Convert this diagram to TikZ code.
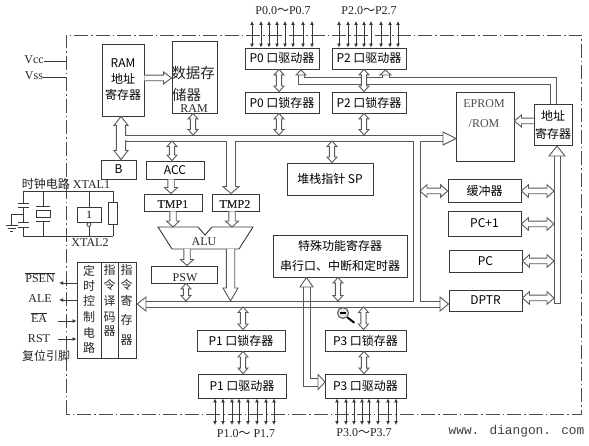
\documentclass[tikz,border=0pt]{standalone}
\usepackage{fontspec}
\setmainfont{Liberation Serif}
\newfontfamily\cjk{Noto Sans CJK SC}
\newfontfamily\webfont{Liberation Mono}
\usetikzlibrary{arrows.meta,calc}
\definecolor{ln}{gray}{0.22}
\definecolor{bl}{gray}{0.35}
\tikzset{
  boxn/.style={draw=ln,line width=.9pt,fill=white,inner sep=0pt,align=center,font=\fontsize{12}{14}\selectfont\cjk},
  lat/.style={font=\fontsize{12}{14}\selectfont,inner sep=0pt,text=black!85},
  zh/.style={font=\fontsize{12}{14}\selectfont\cjk,inner sep=0pt,text=black!85},
  pin/.style={draw=ln,line width=.8pt,{Latex[length=4pt,width=4pt]}-{Latex[length=4pt,width=4pt]}},
  sig/.style={draw=ln,line width=.8pt,-{Latex[length=4pt,width=4pt]}},
  busl/.style={draw=bl,line width=.9pt,line join=miter},
  head/.style={draw=bl,line width=.9pt,fill=white,line join=miter},
  frameb/.style={draw=black!70,line width=.8pt,dash pattern=on 14pt off 3pt on 1.5pt off 3pt},
  wire/.style={draw=ln,line width=.8pt},
}
\newcommand{\bx}[6]{\node[boxn,minimum width=#4pt-#2pt,minimum height=#5pt-#3pt] (#1) at ({(#2+#4)/2},{(#3+#5)/2}) {#6};}
% hollow arrows: from, to, half shaft, half head, head length
\newcommand{\harrtwo}[5]{%
  \coordinate (ha) at ($(#1)!#5pt!(#2)$);
  \coordinate (hb) at ($(#2)!#5pt!(#1)$);
  \draw[head] (#1) -- ($(ha)!#4pt!90:(hb)$) -- ($(ha)!#3pt!90:(hb)$) -- ($(hb)!#3pt!-90:(ha)$) -- ($(hb)!#4pt!-90:(ha)$) -- (#2)
   -- ($(hb)!#4pt!90:(ha)$) -- ($(hb)!#3pt!90:(ha)$) -- ($(ha)!#3pt!-90:(hb)$) -- ($(ha)!#4pt!-90:(hb)$) -- cycle;}
\newcommand{\harrone}[5]{%
  \coordinate (hb) at ($(#2)!#5pt!(#1)$);
  \draw[head] ($(#1)!#3pt!90:(#2)$) -- ($(hb)!#3pt!-90:(#1)$) -- ($(hb)!#4pt!-90:(#1)$) -- (#2)
   -- ($(hb)!#4pt!90:(#1)$) -- ($(hb)!#3pt!90:(#1)$) -- ($(#1)!#3pt!-90:(#2)$);}
\newcommand{\vtwo}[3]{\harrtwo{#2 -| #1,0}{#3 -| #1,0}{2.6}{5}{5.5}}
\newcommand{\vone}[3]{\harrone{#2 -| #1,0}{#3 -| #1,0}{3.2}{6.5}{6}}
\newcommand{\htwo}[3]{\harrtwo{#2 |- 0,#1}{#3 |- 0,#1}{2.8}{6.3}{7}}
\begin{document}
\begin{tikzpicture}[x=1pt,y=-1pt]
\useasboundingbox (0,0) rectangle (589,446);
\fill[white] (0,0) rectangle (589,446);
% frame
\draw[frameb] (66,414) -- (66,35) -- (581,35) -- (581,414) -- cycle;
% boxes
\bx{ramaddr}{102}{44}{144}{116}{RAM\\[2pt]地址\\[2pt]寄存器}
\bx{dmem}{172}{41}{217}{113}{}
\node[inner sep=0pt,font=\fontsize{14.5}{16}\selectfont\cjk,text=black!85] (dmt1) at (193,73) {数据存};
\node[inner sep=0pt,font=\fontsize{14.5}{16}\selectfont\cjk,text=black!85,anchor=west] (dmt2) at (172,95) {储器};
\node[lat] (dmt3) at (194,109) {RAM};
\bx{pod}{245}{48}{319}{69}{P0 口驱动器}
\bx{pol}{245}{92}{319}{113}{P0 口锁存器}
\bx{ptd}{332}{48}{406}{69}{P2 口驱动器}
\bx{ptl}{332}{92}{406}{113}{P2 口锁存器}
\bx{bbx}{101}{160}{136}{179}{B}
\bx{acc}{146}{161}{204}{179}{ACC}
\bx{tmpa}{144}{194}{202}{211}{}
\node[lat] (tmpat) at (173,205) {TMP1};
\bx{tmpb}{212}{194}{259}{211}{}
\node[lat] (tmpbt) at (235,205) {TMP2};
\bx{sp}{287}{163}{373}{195}{堆栈指针 SP}
\bx{eprom}{456}{92}{514}{161}{}
\node[lat,text=black!70] (ept1) at (484,104) {EPROM};
\node[lat,text=black!70] (ept2) at (484,124) {/ROM};
\bx{addr}{534}{104}{572}{145}{地址\\[4pt]寄存器}
\bx{buf}{448}{179}{521}{202}{缓冲器}
\bx{pcp}{448}{211}{521}{236}{PC+1}
\bx{pc}{449}{250}{522}{272}{PC}
\bx{dptr}{449}{290}{522}{311}{DPTR}
\bx{sfr}{273}{235}{407}{277}{特殊功能寄存器\\[6pt]串行口、中断和定时器}
\bx{pad}{198}{374}{286}{398}{P1 口驱动器}
\bx{pal}{197}{330}{285}{351}{P1 口锁存器}
\bx{pcl}{325}{330}{406}{351}{P3 口锁存器}
\bx{pcd}{325}{374}{406}{398}{P3 口驱动器}
\bx{psw}{151}{266}{217}{283}{}
% ALU
\draw[draw=ln,line width=.9pt,fill=white,line join=miter] (158,227) -- (198,227) -- (205,235) -- (212,227) -- (253,227) -- (239,249) -- (172,249) -- cycle;
% control block
\bx{ctl}{77}{262}{101}{358}{}
\bx{dec}{101}{262}{118}{358}{}
\bx{ireg}{118}{262}{136}{358}{}
\foreach \t/\y in {定/271,时/286,控/301,制/317,电/333,路/348} \node[zh] at (89,\y) {\t};
\foreach \t/\y in {指/270,令/285,译/301,码/317,器/331} \node[zh] at (109.5,\y) {\t};
\foreach \t/\y in {指/270,令/285,寄/301,存/320,器/340} \node[zh] at (126.5,\y) {\t};
% named bus coordinates
\coordinate (ubt) at (0,135);
\coordinate (ubb) at (0,141);
\coordinate (lbt) at (0,301);
\coordinate (lbb) at (0,307);
% arrows under the buses
\harrtwo{ramaddr.south -| 121,0}{bbx.north -| 121,0}{4.6}{7}{9}
\fill[white] (124,136) rectangle (128,140);
% upper and lower bus
\draw[busl] (125.6,135) -- (444,135);
\draw[busl] (125.6,141) -- (413,141) -- (413,301) -- (146,301);
\draw[busl] (146,307) -- (440,307);
\draw[busl] (443,141) -- (420,141) -- (420,301) -- (440,301);
\draw[head] (443,132) -- (456,138.5) -- (443,145) -- cycle;
\draw[head] (440,297) -- (448.5,304) -- (440,311) -- cycle;
\draw[head] (146,297) -- (137,304) -- (146,311) -- cycle;
% right bus
\draw[busl] (554,156) -- (554,303) -- (560,303) -- (560,156);
\draw[head] (549,156) -- (557,146) -- (565,156) -- cycle;
% address lines
\draw[busl] (298,75) -- (298,84) -- (550,84) -- (550,104);
\draw[busl] (304,75) -- (304,77) -- (382,77) -- (382,75);
\draw[busl] (389,75) -- (389,77) -- (556,77) -- (556,104);
\draw[head] (296,75) -- (301,70) -- (306,75) -- cycle;
\draw[head] (380,75) -- (385.5,70) -- (391,75) -- cycle;
% connectors
\harrone{ramaddr.east |- 0,78}{dmem.west |- 0,78}{2.8}{6}{8}
\vtwo{193}{dmem.south}{ubt}
\vtwo{279}{pod.south}{pol.north}
\vtwo{279}{pol.south}{ubt}
\vtwo{364}{ptd.south}{ptl.north}
\vtwo{364}{ptl.south}{ubt}
\vtwo{172}{ubb}{acc.north}
\vone{171}{acc.south}{tmpa.north}
\harrone{ubb -| 231,0}{tmpb.north -| 231,0}{4.5}{8}{7}
\vtwo{332}{ubb}{sp.north}
\vone{173}{tmpa.south}{0,227}
\vone{232}{tmpb.south}{0,227}
\vone{187}{0,249}{psw.north}
\vtwo{186}{psw.south}{lbt}
\harrone{0,249 -| 230.5,0}{lbt -| 230.5,0}{4.2}{7.5}{13}
\vtwo{338}{sfr.south}{lbt}
\vtwo{243}{lbb}{pal.north}
\vtwo{243}{pal.south}{pad.north}
\vtwo{363.5}{lbb}{pcl.north}
\vtwo{364}{pcl.south}{pcd.north}
% P3 driver to special registers
\draw[busl] (303,287) -- (303,386) -- (318,386);
\draw[busl] (310,287) -- (310,378) -- (318,378);
\draw[head] (318,374.5) -- (325,382) -- (318,389.5) -- cycle;
\draw[head] (300,287) -- (306.5,277.5) -- (313,287) -- cycle;
% box texts above arrows
\node[lat] (tmpat2) at (173,205) {TMP1};
\node[lat] (tmpbt2) at (235,205) {TMP2};
\node[lat] (pswt) at (185,278) {PSW};
\node[lat] (alu) at (204,242) {ALU};
% EPROM
\harrone{addr.west |- 0,121}{eprom.east |- 0,121}{2.8}{6}{7}
\htwo{191}{420,0}{buf.west}
\foreach \n/\y in {buf/191,pcp/224,pc/261,dptr/298} {\htwo{\y}{\n.east}{554,0}}
% pins
\foreach \x in {252,261,269,277,285,293,303,312} \draw[pin] (\x,21) -- (pod.north -| \x,0);
\foreach \x in {339,348,356,364,371,381,390,398} \draw[pin] (\x,21) -- (ptd.north -| \x,0);
\foreach \x in {215,223,232,239,248,257,266,274} \draw[pin] (pad.south -| \x,0) -- (\x,425);
\foreach \x in {337,346,354,362,369,378,388,396} \draw[pin] (pcd.south -| \x,0) -- (\x,425);
% labels
\node[lat] (lp0) at (283,11) {P0.0{\cjk～}P0.7};
\node[lat] (lp2) at (369,11) {P2.0{\cjk～}P2.7};
\node[lat] (lp1) at (246,434) {P1.0{\cjk～} P1.7};
\node[lat] (lp3) at (364,433) {P3.0{\cjk～}P3.7};
\node[inner sep=0pt,font=\fontsize{12.8}{15}\selectfont\webfont,text=black!75] (web) at (516.5,431) {www. diangon. com};
% power
\node[lat] (vcc) at (34,60) {Vcc};
\node[lat] (vss) at (34,76) {Vss};
\coordinate (fa) at (66,61);
\coordinate (fb) at (66,77);
\draw[wire] (vcc.east |- fa) -- (fa);
\draw[wire] (vss.east |- fb) -- (fb);
% control signals
\node[lat] (psen) at (40,278) {$\overline{\mbox{PSEN}}$};
\node[lat] (ale) at (40,299) {ALE};
\node[lat] (ea) at (39,318) {$\overline{\mbox{EA}}$};
\node[lat] (rst) at (39,339) {RST};
\node[zh] (rstz) at (46,356) {复位引脚};
\draw[sig] (ctl.west |- 0,283) -- (59,283);
\draw[sig] (ctl.west |- 0,300) -- (59,300);
\draw[sig] (58,321) -- (ctl.west |- 0,321);
\draw[sig] (58,339) -- (ctl.west |- 0,339);
\foreach \y in {283,300,321,339} \draw[wire] (66,\y-3) -- (66,\y+3);
% clock circuit
\node[font=\fontsize{12}{14}\selectfont,inner sep=0pt,text=black!85] (clk) at (66,184) {{\cjk 时钟电路} XTAL1};
\node[lat] (xt2) at (90,243) {XTAL2};
\draw[wire] (23,191.5) -- (113,191.5);
\draw[wire] (23,236) -- (113,236);
\draw[wire] (23,191.5) -- (23,203);
\draw[wire] (18,203) -- (29,203) (18,207) -- (29,207);
\draw[wire] (23,207) -- (23,222);
\draw[wire] (18,222) -- (29,222) (18,227) -- (29,227);
\draw[wire] (23,227) -- (23,236);
\draw[wire] (23,214) -- (11,214) -- (11,225);
\draw[wire] (6,225) -- (18,225) (8,228) -- (16,228) (10,231) -- (13,231);
\draw[wire] (43,191.5) -- (43,206) (36,206) -- (50,206);
\draw[wire] (36,210) rectangle (50,217);
\draw[wire] (36,221) -- (50,221) (43,221) -- (43,236);
\node[draw=ln,line width=.9pt,minimum width=24pt,minimum height=15pt,inner sep=0pt,font=\fontsize{11}{12}\selectfont] (inv) at (89,215) {1};
\draw[wire] (89,191.5) -- (inv.north);
\node[draw=ln,line width=.8pt,circle,minimum size=4pt,inner sep=0pt,fill=white] (bub) at (89,224.5) {};
\draw[wire] (bub.south) -- (89,236);
\node[draw=ln,line width=.9pt,minimum width=9pt,minimum height=22pt,inner sep=0pt] (res) at (113,213) {};
\draw[wire] (113,191.5) -- (res.north);
\draw[wire] (res.south) -- (113,236);
% magnifier
\draw[black,line width=2pt,line cap=round] (347.5,317.5) -- (354,322.5);
\draw[black!60,line width=1.2pt,fill=black!10] (343,313) circle (5.5);
\draw[black,line width=1.1pt] (340,313) -- (346,313);
\end{tikzpicture}
\end{document}
